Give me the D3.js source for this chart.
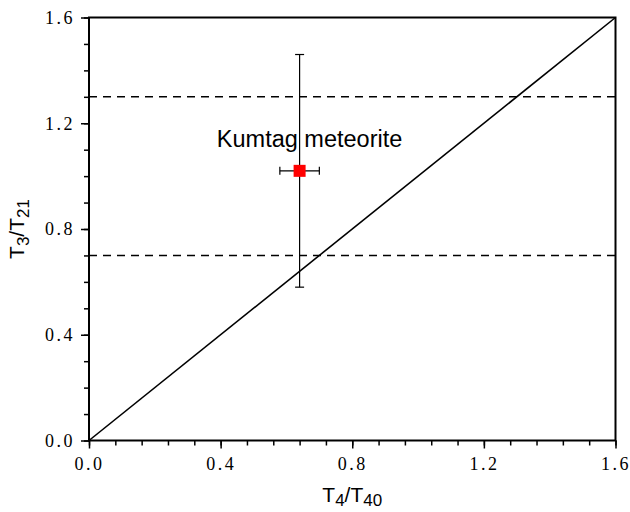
<!doctype html>
<html>
<head>
<script src="https://d3js.org/d3.v7.min.js"></script>
<style>
body { margin: 0; background: #fff; }
.title { font-family: "Liberation Sans", Arial, sans-serif; font-size: 21px; }
</style>
</head>
<body>
<svg width="630" height="512" id="chart"></svg>
<script>
var xTicks = [0, 0.4, 0.8, 1.2, 1.6];
var yTicks = [0, 0.4, 0.8, 1.2, 1.6];
var refLine = [[0, 0], [1.6, 1.6]];
var dashLevels = [0.7, 1.3];
var pointName = ["Kumtag meteorite"];
var pointX = [0.64];
var pointY = [1.02];
var pointXErr = [0.06];
var pointYErr = [0.44];

var svg = d3.select("#chart");
var mLeft = 89, mRight = 615.5, mTop = 17.5, mBottom = 440.5;

var x = d3.scaleLinear().domain([0, 1.6]).range([mLeft, mRight]);
var y = d3.scaleLinear().domain([0, 1.6]).range([mBottom, mTop]);

var fmt = function (d) { return d3.format(".1f")(d); };

function styleAxis(g) {
  g.select(".domain").remove();
  g.selectAll("line").attr("stroke-width", 1.5).attr("stroke", "#000");
  g.selectAll("text").attr("fill", "#000")
    .style("font-family", "'Liberation Serif', 'DejaVu Serif', serif")
    .style("font-size", "18px")
    .style("letter-spacing", "2.5px");
}

// minor ticks
var xMinor = d3.range(0, 1.6001, 0.08);
var yMinor = d3.range(0, 1.6001, 0.1);
svg.append("g").attr("transform", "translate(0," + mBottom + ")")
  .call(d3.axisBottom(x).tickValues(xMinor).tickSize(5).tickFormat(""))
  .call(styleAxis);
svg.append("g").attr("transform", "translate(" + mLeft + ",0)")
  .call(d3.axisLeft(y).tickValues(yMinor).tickSize(5).tickFormat(""))
  .call(styleAxis);

// major ticks
svg.append("g").attr("transform", "translate(0," + mBottom + ")")
  .call(d3.axisBottom(x).tickValues(xTicks).tickSize(8).tickPadding(9).tickFormat(fmt))
  .call(styleAxis);
svg.append("g").attr("transform", "translate(" + mLeft + ",0)")
  .call(d3.axisLeft(y).tickValues(yTicks).tickSize(8).tickPadding(6).tickFormat(fmt))
  .call(styleAxis);

// dashed levels
svg.selectAll(".dash").data(dashLevels).enter().append("line")
  .attr("x1", x(0)).attr("x2", x(1.6))
  .attr("y1", function (d) { return y(d); }).attr("y2", function (d) { return y(d); })
  .attr("stroke", "#000").attr("stroke-width", 1.5).attr("stroke-dasharray", "8,6");

// reference line
svg.append("path").datum(refLine)
  .attr("d", d3.line().x(function (d) { return x(d[0]); }).y(function (d) { return y(d[1]); }))
  .attr("stroke", "#000").attr("stroke-width", 1.6).attr("fill", "none");

// frame
svg.append("rect").attr("x", mLeft).attr("y", mTop)
  .attr("width", mRight - mLeft).attr("height", mBottom - mTop)
  .attr("fill", "none").attr("stroke", "#000").attr("stroke-width", 2);

// error bars
var pts = pointX.map(function (d, i) {
  return { x: d, y: pointY[i], ex: pointXErr[i], ey: pointYErr[i], name: pointName[i] };
});
var g = svg.append("g").attr("stroke", "#000").attr("stroke-width", 1.2);
pts.forEach(function (p) {
  g.append("line").attr("x1", x(p.x)).attr("x2", x(p.x)).attr("y1", y(p.y - p.ey)).attr("y2", y(p.y + p.ey));
  g.append("line").attr("x1", x(p.x) - 4.5).attr("x2", x(p.x) + 4.5).attr("y1", y(p.y + p.ey)).attr("y2", y(p.y + p.ey));
  g.append("line").attr("x1", x(p.x) - 4.5).attr("x2", x(p.x) + 4.5).attr("y1", y(p.y - p.ey)).attr("y2", y(p.y - p.ey));
  g.append("line").attr("x1", x(p.x - p.ex)).attr("x2", x(p.x + p.ex)).attr("y1", y(p.y)).attr("y2", y(p.y));
  g.append("line").attr("x1", x(p.x - p.ex)).attr("x2", x(p.x - p.ex)).attr("y1", y(p.y) - 4).attr("y2", y(p.y) + 4);
  g.append("line").attr("x1", x(p.x + p.ex)).attr("x2", x(p.x + p.ex)).attr("y1", y(p.y) - 4).attr("y2", y(p.y) + 4);
});

svg.selectAll(".pt").data(pts).enter().append("rect")
  .attr("x", function (d) { return x(d.x) - 6; })
  .attr("y", function (d) { return y(d.y) - 6; })
  .attr("width", 12).attr("height", 12).attr("fill", "#ff0000");

svg.selectAll(".lab").data(pts).enter().append("text")
  .attr("class", "title")
  .attr("x", function (d) { return x(d.x) + 10; })
  .attr("y", function (d) { return y(d.y) - 24; })
  .attr("text-anchor", "middle")
  .style("font-size", "23.5px")
  .text(function (d) { return d.name; });

// axis titles
var xt = svg.append("text").attr("class", "title").attr("x", (mLeft + mRight) / 2).attr("y", 502).attr("text-anchor", "middle");
xt.append("tspan").text("T");
xt.append("tspan").attr("dy", 4).style("font-size", "17px").text("4");
xt.append("tspan").attr("dy", -4).text("/T");
xt.append("tspan").attr("dy", 4).style("font-size", "17px").text("40");

var yt = svg.append("text").attr("class", "title").attr("transform", "translate(24," + (mTop + mBottom) / 2 + ") rotate(-90)").attr("text-anchor", "middle");
yt.append("tspan").text("T");
yt.append("tspan").attr("dy", 5).style("font-size", "17px").text("3");
yt.append("tspan").attr("dy", -5).text("/T");
yt.append("tspan").attr("dy", 5).style("font-size", "17px").text("21");
</script>
</body>
</html>
